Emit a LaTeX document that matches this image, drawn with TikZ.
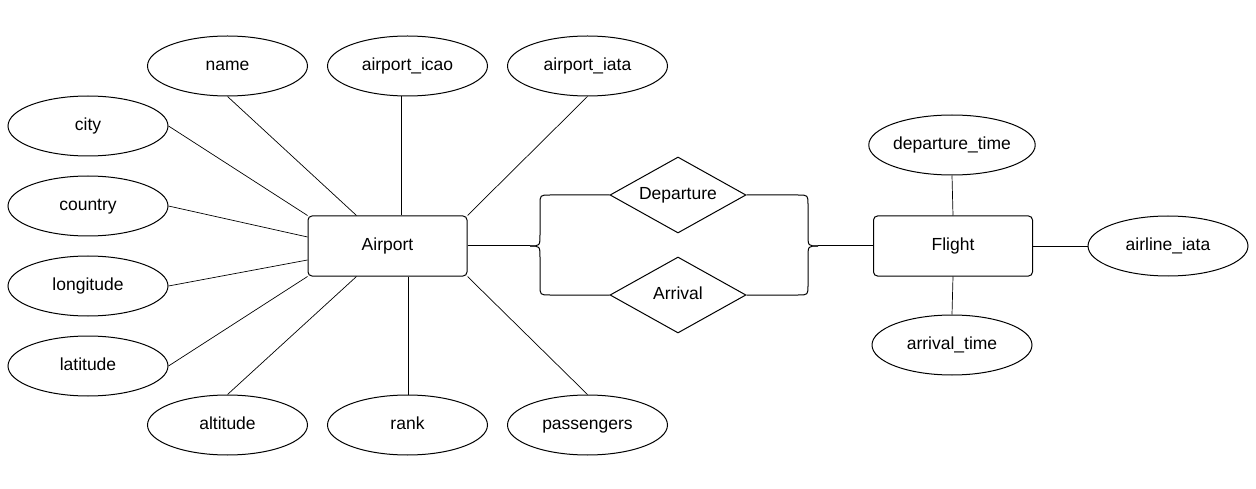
\documentclass[tikz,border=0pt]{standalone}
\usepackage{fontspec}
\setmainfont{Liberation Sans}
\usetikzlibrary{shapes.geometric,calc}
\begin{document}
\begin{tikzpicture}[x=1pt,y=-1pt,
  lbl/.style={font=\fontsize{17.5}{20}\selectfont,text height=12.5pt,text depth=3.5pt},
  attr/.style={lbl,ellipse,draw,line width=1pt,minimum width=160pt,minimum height=60pt,inner sep=0pt},
  entity/.style={lbl,rectangle,draw,line width=1pt,rounded corners=4pt,minimum width=159pt,minimum height=60pt,inner sep=0pt},
  rel/.style={lbl,diamond,draw,line width=1pt,aspect=1.79,minimum width=136pt,minimum height=76pt,inner sep=0pt},
  link/.style={draw,line width=0.7pt},
  rlink/.style={draw,line width=1pt}]
\useasboundingbox (0,0) rectangle (1256,489);
\node[entity] (airport) at (387.5,246) {Airport};
\node[entity] (flight) at (953,246) {Flight};
\node[rel] (dep) at (678,195) {Departure};
\node[rel] (arr) at (678,295) {Arrival};

\node[attr] (name) at (227.5,66) {name};
\node[attr] (icao) at (407.5,66) {airport\_icao};
\node[attr] (iata) at (587.5,66) {airport\_iata};
\node[attr] (city) at (88,126) {city};
\node[attr] (country) at (88,206) {country};
\node[attr] (longitude) at (88,286) {longitude};
\node[attr] (latitude) at (88,366) {latitude};
\node[attr] (altitude) at (227.5,425) {altitude};
\node[attr] (rank) at (407.5,425) {rank};
\node[attr] (passengers) at (587.5,425) {passengers};

\node[attr] (deptime) at (952,145) {departure\_time};
\node[attr] (arrtime) at (952,345) {arrival\_time};
\node[attr] (airline) at (1168,246) {airline\_iata};

% attribute links
\path[link] (name.south) -- ($(airport.north west)+(49,0)$);
\coordinate (icaoA) at ($(airport.north west)+(94,0)$);
\path[link] (icaoA) -- (icaoA |- icao.south);
\path[link] (iata.south) -- (airport.north east);
\path[link] (city.east) -- (airport.north west);
\path[link] (country.east) -- ($(airport.west)+(0,-9)$);
\path[link] (longitude.east) -- ($(airport.west)+(0,14)$);
\path[link] (latitude.east) -- (airport.south west);
\path[link] (altitude.north) -- ($(airport.south west)+(49,0)$);
\coordinate (rankA) at ($(airport.south west)+(101,0)$);
\path[link] (rankA) -- (rankA |- rank.north);
\path[link] (passengers.north) -- (airport.south east);

\path[link] (deptime.south) -- (flight.north);
\path[link] (arrtime.north) -- (flight.south);
\path[link] (flight.east) -- (airline.west);

% relationship links (brace-like)
\coordinate (lt) at (530,246);
\path[rlink] (airport.east) -- (lt);
\path[rlink] (lt) .. controls (540,246) .. (540,234) -- (540,205) .. controls (540,195) .. (550,195) -- (dep.west);
\path[rlink] (lt) .. controls (540,246) .. (540,258) -- (540,285) .. controls (540,295) .. (550,295) -- (arr.west);
\coordinate (rt) at (818,246);
\path[rlink] (rt) -- (flight.west);
\path[rlink] (dep.east) -- (798,195) .. controls (808,195) .. (808,205) -- (808,234) .. controls (808,246) .. (rt);
\path[rlink] (arr.east) -- (798,295) .. controls (808,295) .. (808,285) -- (808,258) .. controls (808,246) .. (rt);
\end{tikzpicture}
\end{document}
